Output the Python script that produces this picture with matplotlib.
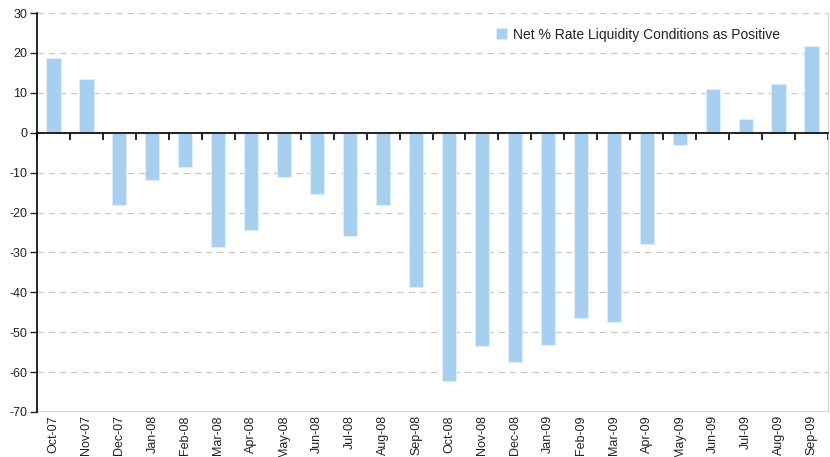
import matplotlib.pyplot as plt
import matplotlib.transforms as mtransforms
import numpy as np

plt.rcParams['font.family'] = ['Liberation Sans', 'DejaVu Sans']
plt.rcParams['axes.unicode_minus'] = False

months = ['Oct-07', 'Nov-07', 'Dec-07', 'Jan-08', 'Feb-08', 'Mar-08', 'Apr-08',
          'May-08', 'Jun-08', 'Jul-08', 'Aug-08', 'Sep-08', 'Oct-08', 'Nov-08',
          'Dec-08', 'Jan-09', 'Feb-09', 'Mar-09', 'Apr-09', 'May-09', 'Jun-09',
          'Jul-09', 'Aug-09', 'Sep-09']
net_pct = [18.8, 13.5, -18.0, -11.8, -8.5, -28.6, -24.3, -11.0, -15.3, -25.8,
           -18.0, -38.6, -62.2, -53.4, -57.4, -53.1, -46.4, -47.4, -27.8, -3.0,
           11.0, 3.5, 12.3, 21.8]
yticks = [30, 20, 10, 0, -10, -20, -30, -40, -50, -60, -70]

fig = plt.figure(figsize=(8.3, 4.57), dpi=100)
ax = fig.add_axes([0.0446, 0.0985, 0.953, 0.873])

x = np.arange(len(months))
ax.bar(x, net_pct, width=0.43, color='#A6CFF0', edgecolor='#DDEDFB',
       linewidth=0.8, label='Net % Rate Liquidity Conditions as Positive', zorder=2)

ymin, ymax = min(yticks), max(yticks)
ax.set_ylim(ymin, ymax)
ax.set_xlim(-0.5, len(months) - 0.5)
ax.set_yticks(yticks)
ax.yaxis.grid(True, color='#c8c8c8', linestyle=(0, (5, 4)), linewidth=0.9, zorder=0)
ax.set_axisbelow(True)

# zero axis with separators between categories
ax.spines['bottom'].set_position(('data', 0))
ax.spines['bottom'].set_linewidth(1.2)
ax.spines['bottom'].set_zorder(3)
ax.set_xticks(np.arange(len(months) + 1) - 0.5)
ax.set_xticklabels([])
ax.tick_params(axis='x', length=5, width=1.2, direction='out', color='black')
ax.tick_params(axis='y', length=5, width=1, direction='out', labelsize=9,
               colors='#222222', pad=2)

# month labels along the bottom of the plot area
trans = mtransforms.blended_transform_factory(ax.transData, ax.transAxes)
for xi, m in zip(x, months):
    ax.text(xi, -0.008, m, transform=trans, rotation=90, ha='center', va='top',
            fontsize=9, color='#222222')

ax.spines['top'].set_visible(False)
ax.spines['right'].set_color('#d0d0d0')
ax.spines['left'].set_color('black')
ax.spines['left'].set_linewidth(1.2)
ax.axhline(ymin, color='#d0d0d0', linewidth=1.2, zorder=1)

leg = ax.legend(loc='upper right', bbox_to_anchor=(0.955, 0.995), frameon=False,
                fontsize=10, handlelength=0.8, handleheight=0.8, handletextpad=0.4)
for t in leg.get_texts():
    t.set_color('#222222')

fig.savefig('out.png', dpi=100)
